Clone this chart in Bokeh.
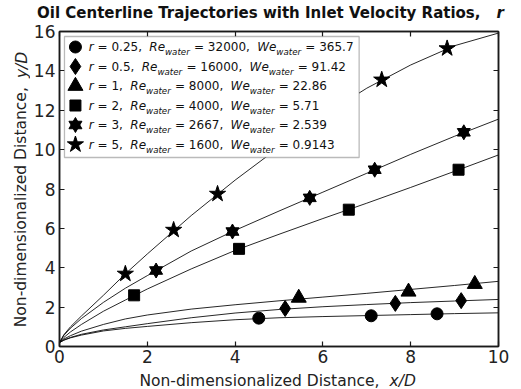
from bokeh.plotting import figure
from bokeh.layouts import column, row
from bokeh.models import BoxAnnotation, LinearAxis, SingleIntervalTicker, Range1d, Label
from bokeh.core.properties import value
from bokeh.embed import file_html
from bokeh.resources import INLINE

# ---- measured trajectories (x/D, y/D) ----
x_grid = [0, 0.1, 0.25, 0.5, 1, 1.5, 2, 3, 4, 5, 6, 7, 8, 9, 10]
curve_r025 = [0.2, 0.32, 0.44, 0.58, 0.79, 0.92, 1.02, 1.21, 1.36, 1.46, 1.52, 1.57, 1.62, 1.67, 1.71]
curve_r05 = [0.2, 0.33, 0.46, 0.62, 0.84, 1.0, 1.16, 1.46, 1.7, 1.88, 2.02, 2.13, 2.23, 2.31, 2.39]
curve_r1 = [0.2, 0.38, 0.55, 0.78, 1.12, 1.4, 1.6, 1.9, 2.12, 2.32, 2.51, 2.7, 2.9, 3.1, 3.31]
curve_r2 = [0.2, 0.46, 0.74, 1.12, 1.79, 2.36, 2.92, 3.94, 4.88, 5.7, 6.5, 7.28, 8.08, 8.9, 9.73]
curve_r3 = [0.2, 0.57, 0.93, 1.42, 2.24, 2.96, 3.6, 4.85, 5.9, 6.88, 7.84, 8.8, 9.76, 10.68, 11.55]
curve_r5 = [0.2, 0.6, 1.0, 1.55, 2.6, 3.69, 4.7, 6.65, 8.45, 10.12, 11.72, 13.12, 14.3, 15.28, 15.92]

pts_r025_x = [4.54, 7.10, 8.60]
pts_r025_y = [1.44, 1.56, 1.66]
pts_r05_x = [5.14, 7.65, 9.15]
pts_r05_y = [1.93, 2.19, 2.33]
pts_r1_x = [5.45, 7.95, 9.46]
pts_r1_y = [2.47, 2.78, 3.17]
pts_r2_x = [1.70, 4.09, 6.59, 9.09]
pts_r2_y = [2.60, 4.96, 6.95, 8.98]
pts_r3_x = [2.20, 3.94, 5.70, 7.18, 9.21]
pts_r3_y = [3.86, 5.84, 7.55, 8.98, 10.88]
pts_r5_x = [1.50, 2.60, 3.60, 7.34, 8.83]
pts_r5_y = [3.69, 5.92, 7.75, 13.55, 15.14]

ratios = ["0.25", "0.5", "1", "2", "3", "5"]
re_water = ["32000", "16000", "8000", "4000", "2667", "1600"]
we_water = ["365.7", "91.42", "22.86", "5.71", "2.539", "0.9143"]

title_text = "Oil Centerline Trajectories with Inlet Velocity Ratios,"
title_var = "r"
axis_text = "Non-dimensionalized Distance,"
x_var = "x/D"
y_var = "y/D"

x_ticks_step = 2
y_ticks_step = 2

# ---- page geometry (canvas pixels) ----
W, H = 521, 389
TOP_H = 24            # title strip
LEFT_W = 30           # y-label strip
BOT_H = 20            # x-label strip
FRAME_L, FRAME_R, FRAME_T, FRAME_B = 57, 498, 31, 346
XMAX, YMAX = 10, 16
PLOT_W = W - LEFT_W
PLOT_H = H - TOP_H - BOT_H
FW, FH = FRAME_R - FRAME_L, FRAME_B - FRAME_T


def dx(px):
    return (px - FRAME_L) / FW * XMAX


def dy(py):
    return (FRAME_B - py) / FH * YMAX


FONT = "DejaVu Sans"
INK = "#1a1a1a"

p = figure(width=PLOT_W, height=PLOT_H, x_range=Range1d(0, XMAX), y_range=Range1d(0, YMAX),
           output_backend="svg", toolbar_location=None,
           min_border_left=FRAME_L - LEFT_W, min_border_right=W - FRAME_R,
           min_border_top=FRAME_T - TOP_H, min_border_bottom=H - BOT_H - FRAME_B)
p.grid.visible = False
p.background_fill_color = "white"
p.border_fill_color = "white"
p.outline_line_color = INK
p.outline_line_width = 1.5


def style_axis(ax, show_labels):
    ax.major_tick_in = 5
    ax.major_tick_out = 0
    ax.minor_tick_in = 0
    ax.minor_tick_out = 0
    ax.minor_tick_line_color = None
    ax.axis_line_color = INK
    ax.axis_line_width = 1.5
    ax.major_tick_line_color = INK
    ax.major_tick_line_width = 1.2
    if show_labels:
        ax.major_label_text_font = FONT
        ax.major_label_text_font_size = "17px"
        ax.major_label_text_color = "#222222"
    else:
        ax.major_label_text_font_size = "1px"
        ax.major_label_text_color = None
        ax.major_label_standoff = 0


p.xaxis[0].ticker = SingleIntervalTicker(interval=x_ticks_step)
p.yaxis[0].ticker = SingleIntervalTicker(interval=y_ticks_step)
style_axis(p.xaxis[0], True)
style_axis(p.yaxis[0], True)
p.xaxis[0].major_label_standoff = 3
p.yaxis[0].major_label_standoff = 4

top_ax = LinearAxis(ticker=SingleIntervalTicker(interval=x_ticks_step))
right_ax = LinearAxis(ticker=SingleIntervalTicker(interval=y_ticks_step))
style_axis(top_ax, False)
style_axis(right_ax, False)
p.add_layout(top_ax, "above")
p.add_layout(right_ax, "right")

# ---- fitted trajectory lines ----
for cy in (curve_r025, curve_r05, curve_r1, curve_r2, curve_r3, curve_r5):
    p.line(x_grid, cy, line_color="black", line_width=1, line_alpha=0.85)

# ---- measured centreline points ----
mk = dict(fill_color="black", line_color="black")
p.scatter(pts_r025_x, pts_r025_y, marker="circle", size=12, **mk)
p.scatter(pts_r05_x, pts_r05_y, marker="diamond", size=16, **mk)
p.scatter(pts_r1_x, pts_r1_y, marker="triangle", size=15, **mk)
p.scatter(pts_r2_x, pts_r2_y, marker="square", size=11, **mk)
p.scatter(pts_r3_x, pts_r3_y, marker="triangle", size=13, **mk)
p.scatter(pts_r3_x, pts_r3_y, marker="inverted_triangle", size=13, **mk)
p.scatter(pts_r5_x, pts_r5_y, marker="star", size=17, **mk)

# ---- legend drawn by hand (subscripted labels) ----
p.add_layout(BoxAnnotation(left=dx(62), right=dx(358), top=dy(36), bottom=dy(157),
                           fill_color="white", fill_alpha=1.0,
                           line_color=INK, line_width=1.3, level="annotation"))

ADV = {' ': 651, ',': 651, '.': 651, '=': 1716, 'R': 1423, 'W': 2025,
       'a': 1255, 'e': 1260, 'r': 842, 't': 803, 'w': 1675}


def text_width(s, size):
    return sum(ADV.get(c, 1303) for c in s) / 2048 * size


LEG_SIZE = 12.0
SUB_SIZE = 8.7
row_centers = [46.5, 66.0, 85.5, 105.0, 124.5, 144.0]
legend_markers = [("circle", 12), ("diamond", 16), ("triangle", 15), ("square", 11),
                  ("hexagram", 13), ("star", 17)]

for i, rc in enumerate(row_centers):
    mname, msize = legend_markers[i]
    if mname == "hexagram":
        for m in ("triangle", "inverted_triangle"):
            r = p.scatter([dx(73)], [dy(rc)], marker=m, size=msize, **mk)
            r.level = "overlay"
    else:
        r = p.scatter([dx(73)], [dy(rc)], marker=mname, size=msize, **mk)
        r.level = "overlay"

    pieces = [("r", "italic", False), (" = %s,  " % ratios[i], "normal", False),
              ("Re", "italic", False), ("water", "italic", True),
              (" = %s,  " % re_water[i], "normal", False),
              ("We", "italic", False), ("water", "italic", True),
              (" = %s" % we_water[i], "normal", False)]
    xpos = 86.5
    for txt, style, sub in pieces:
        size = SUB_SIZE if sub else LEG_SIZE
        ypos = rc + 5 if sub else rc
        lead = len(txt) - len(txt.lstrip(" "))
        xpos += text_width(" " * lead, size)
        core = txt.strip(" ")
        p.add_layout(Label(x=dx(xpos), y=dy(ypos), text=core, text_font=FONT,
                           text_font_size="%.1fpx" % size, text_font_style=style,
                           text_color="#111111", text_align="left",
                           text_baseline="middle", level="overlay"))
        trail = len(txt) - len(txt.rstrip(" "))
        xpos += text_width(core, size) + text_width(" " * trail, size) + (0.5 if sub else 0)


# ---- text strips around the plot (their frames are the whole strip, in pixels) ----
def strip(w, h):
    f = figure(width=w, height=h, x_range=Range1d(0, w), y_range=Range1d(0, h),
               output_backend="svg", toolbar_location=None,
               x_axis_type=None, y_axis_type=None,
               min_border_left=0, min_border_right=0, min_border_top=0, min_border_bottom=0)
    f.outline_line_color = None
    f.background_fill_color = "white"
    f.border_fill_color = "white"
    f.grid.visible = False
    return f


def put(f, x, y, txt, size, style, align, baseline, angle=0.0, color="#222222"):
    f.text(x=[x], y=[y], text=[txt], angle=angle, text_font=value(FONT),
           text_font_size=value(size), text_font_style=value(style),
           text_align=value(align), text_baseline=value(baseline), text_color=color)


top = strip(W, TOP_H)
put(top, 480, TOP_H - 12.5, title_text, "15px", "bold", "right", "alphabetic", color="#111111")
put(top, 496, TOP_H - 12.5, title_var, "15px", "bold italic", "left", "alphabetic", color="#111111")

left = strip(LEFT_W, PLOT_H)
left_base = TOP_H + PLOT_H          # canvas y of the strip's bottom edge
put(left, 21.0, left_base - 85, axis_text, "15.5px", "normal", "right", "alphabetic", angle=1.5707963)
put(left, 21.0, left_base - 75, y_var, "15.5px", "italic", "left", "alphabetic", angle=1.5707963)

bottom = strip(W, BOT_H)
put(bottom, 379, H - 380.0, axis_text, "15.5px", "normal", "right", "alphabetic")
put(bottom, 389, H - 380.0, x_var, "15.5px", "italic", "left", "alphabetic")

page = column(top, row(left, p), bottom)
open("out.html", "w").write(file_html(page, INLINE))
